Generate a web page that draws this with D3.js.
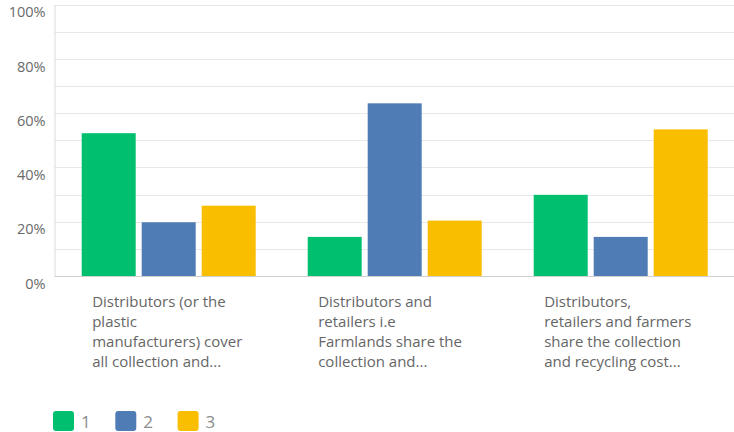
<!DOCTYPE html>
<html>
<head>
<meta charset="utf-8">
<script src="https://cdn.jsdelivr.net/npm/d3@7"></script>
<style>
  html, body { margin: 0; padding: 0; background: #fff; }
  svg { display: block; }
  text { font-family: "Open Sans", sans-serif; }
</style>
</head>
<body>
<svg id="chart" width="734" height="432"></svg>
<script>
// Answer options, shown as pre-wrapped (truncated) lines under each group
const categories = ["opt1", "opt2", "opt3"];
const categoryLines = [
  ["Distributors (or the", "plastic", "manufacturers) cover", "all collection and..."],
  ["Distributors and", "retailers i.e", "Farmlands share the", "collection and..."],
  ["Distributors,", "retailers and farmers", "share the collection", "and recycling cost..."]
];

// Share of respondents (%) per rank, one array per series
const seriesNames = ["1", "2", "3"];
const rank1 = [52.6, 14.4, 29.9];
const rank2 = [19.8, 63.6, 14.4];
const rank3 = [25.9, 20.4, 54.0];
const seriesValues = [rank1, rank2, rank3];
const seriesColors = ["#00bf6f", "#507cb6", "#f9be00"];

const yTicks = [0, 20, 40, 60, 80, 100];
const yMinor = [10, 30, 50, 70, 90];

const svg = d3.select("#chart");
const plotLeft = 54.5, plotRight = 734, plotTop = 4.5, plotBottom = 276;

const x0 = d3.scaleBand().domain(categories).range([55.7, 733.7]).paddingInner(0).paddingOuter(0);
const x1 = d3.scaleBand().domain(seriesNames).range([0, x0.bandwidth()])
  .paddingInner(0.1).paddingOuter(0.4333);
const y = d3.scaleLinear().domain([0, 100]).range([plotBottom, plotTop]);

// grid lines (minor + major)
const grid = svg.append("g");
grid.selectAll("line")
  .data(yMinor.concat(yTicks.filter(d => d > 0)))
  .join("line")
  .attr("x1", plotLeft).attr("x2", plotRight)
  .attr("y1", d => Math.round(y(d)) + 0.5).attr("y2", d => Math.round(y(d)) + 0.5)
  .attr("stroke", "#e8e8e8").attr("stroke-width", 1);

// y axis: tick labels sit just below their gridline
const yAxis = d3.axisLeft(y).tickValues(yTicks).tickSize(0).tickPadding(9)
  .tickFormat(d => d + "%");
const yg = svg.append("g").attr("transform", `translate(${plotLeft},0)`).call(yAxis);
yg.select(".domain").attr("stroke", "#dcdcdc");
yg.selectAll(".tick text")
  .attr("dy", "0.95em").attr("y", -1.5)
  .attr("fill", "#6a6a6a").style("font-size", "14.5px");

// bars
const groups = svg.append("g").selectAll("g")
  .data(categories)
  .join("g")
  .attr("transform", d => `translate(${x0(d)},0)`);

groups.selectAll("rect")
  .data((d, i) => seriesNames.map((s, k) => ({ s, v: seriesValues[k][i], c: seriesColors[k] })))
  .join("rect")
  .attr("x", d => x1(d.s))
  .attr("width", x1.bandwidth())
  .attr("y", d => y(d.v))
  .attr("height", d => y(0) - y(d.v))
  .attr("fill", d => d.c);

// baseline
svg.append("line")
  .attr("x1", plotLeft).attr("x2", plotRight)
  .attr("y1", plotBottom + 0.5).attr("y2", plotBottom + 0.5)
  .attr("stroke", "#cfcfcf");

// category labels
groups.append("text")
  .attr("y", 306.5)
  .attr("fill", "#666")
  .style("font-size", "15px")
  .selectAll("tspan")
  .data((d, i) => categoryLines[i])
  .join("tspan")
  .attr("x", x1(seriesNames[0]) + 10.5)
  .attr("dy", (d, j) => j === 0 ? 0 : 20.2)
  .text(d => d);

// legend
const legend = svg.append("g").selectAll("g")
  .data(seriesNames)
  .join("g")
  .attr("transform", (d, i) => `translate(${53 + i * 62.3},411)`);
legend.append("rect")
  .attr("width", 21).attr("height", 20).attr("rx", 3)
  .attr("fill", (d, i) => seriesColors[i]);
legend.append("text")
  .attr("x", 28).attr("y", 10.5).attr("dy", "0.36em")
  .attr("fill", "#8c8c8c").style("font-size", "17px")
  .text(d => d);
</script>
</body>
</html>
